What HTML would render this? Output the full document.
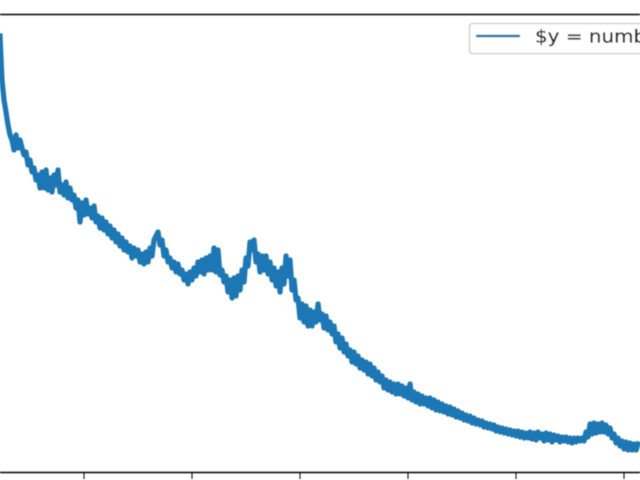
<!DOCTYPE html>
<html>
<head>
<meta charset="utf-8">
<title>Chart</title>
<style>
html,body{margin:0;padding:0;background:#fff;width:640px;height:480px;overflow:hidden}
svg{display:block}
</style>
</head>
<body>
<svg id="chart" width="640" height="480" viewBox="0 0 640 480" xmlns="http://www.w3.org/2000/svg">
  <defs>
    <filter id="soft" x="-5%" y="-5%" width="110%" height="110%"><feGaussianBlur stdDeviation="0.5"/></filter>
  </defs>
  <rect width="640" height="480" fill="#fff"/>
  <g id="plot" filter="url(#soft)">
    <line x1="0" x2="640" y1="14.5" y2="14.5" stroke="#000" stroke-width="1.5"/>
    <line x1="0" x2="640" y1="472.5" y2="472.5" stroke="#000" stroke-width="1.5"/>
    <g id="ticks"></g>
    <path id="series" fill="none" stroke="#1f77b4" stroke-width="5.2" stroke-linejoin="round" stroke-linecap="square"/>
  </g>
  <g filter="url(#soft)">
    <rect x="469.5" y="23.5" width="200" height="30" rx="3" fill="#fff" fill-opacity="0.8" stroke="#ccc" stroke-width="1.3"/>
    <line x1="476" x2="520" y1="36" y2="36" stroke="#1f77b4" stroke-width="2.6"/>
    <text transform="translate(535 42.5) scale(1.14 1)" font-family="'DejaVu Sans', 'Liberation Sans', sans-serif" font-size="17.5" fill="#262626" stroke="#262626" stroke-width="0.25">$y = number</text>
  </g>
</svg>
<script>
// Tick positions on the x axis
const tickValues = [100, 200, 300, 400, 500, 600];
// Sampling of the series along the x axis
const sampleStart = 22.22;
const sampleStep = 1.852;
// Series values
const seriesValues = [
436,392,372,360,347,337,332,322,337,324,332,
324,317,320,307,312,300,304,292,297,284,
300,284,302,282,294,280,297,287,302,280,
287,277,290,274,284,272,277,264,272,250,
269,257,272,258,264,254,266,250,256,244,
254,242,250,238,246,234,242,230,238,226,
234,222,230,220,226,214,224,216,222,210,
218,208,220,210,224,216,232,236,240,227,
232,216,222,210,214,204,210,200,208,198,
202,192,198,188,200,192,204,196,210,200,
212,198,214,202,216,202,224,200,222,197,
202,190,196,180,192,174,194,176,196,182,
202,190,214,206,230,222,232,210,218,200,
216,202,216,198,210,192,204,186,200,180,
204,188,216,196,212,182,192,172,174,154,
168,150,166,146,162,146,160,150,168,152,
158,144,156,142,150,138,146,130,138,124,
134,120,128,116,122,110,120,108,116,104,
112,102,110,98,108,96,104,92,100,90,
96,84,92,82,90,80,88,78,88,78,
86,76,84,74,88,72,80,70,78,68,
76,68,74,66,74,64,72,62,70,61,
68,60,66,58,65,57,63,55,61,54,
59,52,57,51,56,49,54,48,52,47,
51,45,49,44,48,43,47,41,45,40,
44,39,43,38,42,37,41,36,41,35,
40,34,39,34,40,33,39,32,40,34,
38,31,39,32,38,30,37,32,36,30,
35,31,35,30,34,29,34,30,34,31,
34,31,40,35,48,38,49,39,48,40,
49,40,47,38,44,34,38,29,34,26,
31,23,30,22,29,22,28,22,28
];

function xScale(x) { return -24 + 1.08 * x; }
function yScale(y) { return 472 - y; }

const svgNS = 'http://www.w3.org/2000/svg';

const tickGroup = document.getElementById('ticks');
tickValues.forEach(function (t) {
  const tick = document.createElementNS(svgNS, 'line');
  
  
  tick.setAttribute('x1', xScale(t));
  tick.setAttribute('x2', xScale(t));
  tick.setAttribute('y1', 472);
  tick.setAttribute('y2', 479);
  tick.setAttribute('stroke', '#000');
  tick.setAttribute('stroke-width', '1');
  tickGroup.appendChild(tick);
});

let d = '';
seriesValues.forEach(function (v, i) {
  const x = sampleStart + i * sampleStep;
  d += (i === 0 ? 'M' : 'L') + xScale(x).toFixed(2) + ' ' + yScale(v).toFixed(2);
});
document.getElementById('series').setAttribute('d', d);
</script>
</body>
</html>
